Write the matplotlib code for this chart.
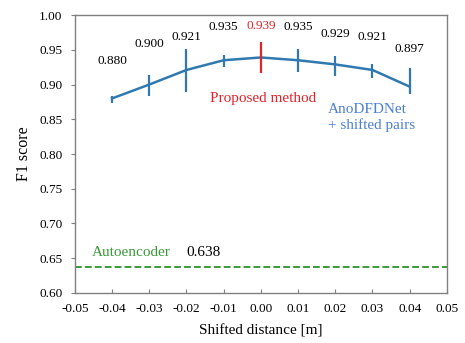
import matplotlib
matplotlib.use("Agg")
import matplotlib.pyplot as plt
import numpy as np

plt.rcParams['font.family'] = ['Liberation Serif', 'DejaVu Serif']

# Data
shift = [-0.04, -0.03, -0.02, -0.01, 0.00, 0.01, 0.02, 0.03, 0.04]
f1 = [0.880, 0.900, 0.921, 0.935, 0.939, 0.935, 0.929, 0.921, 0.897]
err_low = [0.006, 0.016, 0.032, 0.010, 0.022, 0.017, 0.017, 0.012, 0.011]
err_high = [0.003, 0.014, 0.030, 0.007, 0.022, 0.016, 0.012, 0.009, 0.027]
value_labels = ["0.880", "0.900", "0.921", "0.935", "0.939", "0.935", "0.929", "0.921", "0.897"]
autoencoder_f1 = 0.638
xticks = [-0.05, -0.04, -0.03, -0.02, -0.01, 0.00, 0.01, 0.02, 0.03, 0.04, 0.05]
yticks = [0.60, 0.65, 0.70, 0.75, 0.80, 0.85, 0.90, 0.95, 1.00]

# Layout (label offsets in points, to label centre)
label_offsets = [27, 29, 24, 24, 23, 24, 22, 24, 27]

blue = '#2f79b0'
red = '#e0242a'
green = '#3a9a3a'
spine_gray = '#808080'

fig = plt.figure(figsize=(4.65, 3.43), dpi=100)
ax = fig.add_axes([0.161, 0.146, 0.8, 0.81])

ax.plot(shift, f1, color=blue, lw=1.8, zorder=3)
colors = [red if s == 0 else blue for s in shift]
for x, y, lo, hi, c in zip(shift, f1, err_low, err_high, colors):
    ax.errorbar([x], [y], yerr=[[lo], [hi]], fmt='none', ecolor=c, elinewidth=1.6,
                capsize=0, zorder=4)

for x, y, lab, off, c in zip(shift, f1, value_labels, label_offsets, colors):
    tc = red if c == red else 'black'
    ax.annotate(lab, (x, y), xytext=(0, off), textcoords='offset points',
                ha='center', va='center', fontsize=9.5, color=tc)

ax.axhline(autoencoder_f1, color=green, ls=(0, (3.5, 1.6)), lw=1.4)
ax.text(-0.0454, 0.6576, "Autoencoder", color=green, fontsize=11, ha='left', va='center')
ax.text(-0.0199, 0.6576, f"{autoencoder_f1:.3f}", color='black', fontsize=11, ha='left', va='center')

ax.text(0.0005, 0.8806, "Proposed method", color=red, fontsize=11, ha='center', va='center')
ax.text(0.018, 0.8525, "AnoDFDNet\n+ shifted pairs", color='#4a7ed0', fontsize=11,
        ha='left', va='center', linespacing=1.2)

ax.set_xlim(-0.05, 0.05)
ax.set_ylim(0.60, 1.00)
ax.set_xticks(xticks)
ax.set_xticklabels([f"{t:.2f}" for t in xticks])
ax.set_yticks(yticks)
ax.set_yticklabels([f"{t:.2f}" for t in yticks])
ax.tick_params(axis='x', direction='in', length=3, color=spine_gray, labelsize=9.5, pad=7)
ax.tick_params(axis='y', direction='out', length=3, color=spine_gray, labelsize=9.5, pad=6)
for s in ax.spines.values():
    s.set_color(spine_gray)
    s.set_linewidth(1.0)

ax.set_xlabel("Shifted distance [m]", fontsize=11, labelpad=7)
ax.set_ylabel("F1 score", fontsize=11.5, labelpad=5)

fig.savefig("out.png", dpi=100)
